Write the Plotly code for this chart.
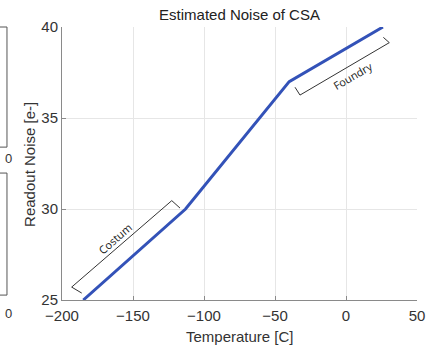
import plotly.graph_objects as go

# Data
temperature = [-185, -113, -40, 26]
noise = [25, 30, 37, 40]

x_ticks = [-200, -150, -100, -50, 0, 50]
y_ticks = [25, 30, 35, 40]

# Bracket annotations (data coordinates)
costum_x = [-186.1, -193.2, -122.7, -116.9]
costum_y = [25.38, 25.71, 30.46, 30.05]
foundry_x = [-35.9, -32.4, 30.5, 26.3]
foundry_y = [36.69, 36.26, 39.14, 39.43]

fig = go.Figure()
fig.add_trace(go.Scatter(x=temperature, y=noise, mode="lines",
                         line=dict(color="#3352b8", width=3), showlegend=False,
                         cliponaxis=False))
fig.add_trace(go.Scatter(x=costum_x, y=costum_y, mode="lines",
                         line=dict(color="#333333", width=1), showlegend=False))
fig.add_trace(go.Scatter(x=foundry_x, y=foundry_y, mode="lines",
                         line=dict(color="#333333", width=1), showlegend=False))

fig.add_annotation(x=-162.7, y=28.39, text="Costum", showarrow=False, textangle=-41,
                   font=dict(family="Open Sans", size=11, color="#222222"))
fig.add_annotation(x=4.9, y=37.36, text="Foundry", showarrow=False, textangle=-30,
                   font=dict(family="Open Sans", size=11, color="#222222"))

# axis titles
fig.add_annotation(xref="paper", yref="paper", x=0.5, y=-0.132, yanchor="middle",
                   text="Temperature [C]", showarrow=False,
                   font=dict(family="Liberation Sans", size=15, color="#333333"))
fig.add_annotation(xref="paper", yref="paper", x=-0.090, y=0.495, xanchor="center",
                   yanchor="middle", textangle=-90,
                   text="Readout Noise [e-]", showarrow=False,
                   font=dict(family="Liberation Sans", size=15, color="#333333"))

# fragments of the neighbouring (cropped) panel
for y0, y1 in [(0.56, 1.0), (0.018, 0.465)]:
    fig.add_shape(type="rect", xref="paper", yref="paper", x0=-0.3, x1=-0.155,
                  y0=y0, y1=y1, line=dict(color="#555555", width=1))
for yy in [0.52, -0.048]:
    fig.add_annotation(xref="paper", yref="paper", x=-0.166, y=yy, yanchor="middle",
                       text="0", showarrow=False,
                       font=dict(family="Liberation Sans", size=13, color="#333333"))

fig.update_layout(
    width=429, height=347,
    margin=dict(l=62, r=12, t=27, b=47, autoexpand=False),
    paper_bgcolor="white", plot_bgcolor="white",
    title=dict(text="Estimated Noise of CSA", x=0.5, xref="paper", y=1 - 15 / 347,
               yref="container", yanchor="middle",
               font=dict(family="Liberation Sans", size=15, color="#222222")),
    font=dict(family="Liberation Sans", size=15, color="#333333"),
)
fig.update_xaxes(range=[-200, 50], tickvals=x_ticks, showgrid=True, gridcolor="#e6e6e6",
                 zeroline=False, showline=True, linecolor="#8a8a8a", linewidth=1,
                 ticks="inside", ticklen=4, tickcolor="#8a8a8a", ticklabelstandoff=2,
                 automargin=False,
                 tickfont=dict(size=15, color="#333333"))
fig.update_yaxes(range=[25, 40], tickvals=y_ticks, showgrid=True, gridcolor="#e6e6e6",
                 zeroline=False, showline=True, linecolor="#8a8a8a", linewidth=1,
                 ticks="inside", ticklen=4, tickcolor="#8a8a8a", automargin=False,
                 tickfont=dict(size=15, color="#333333"))

fig.write_html("out.html")
